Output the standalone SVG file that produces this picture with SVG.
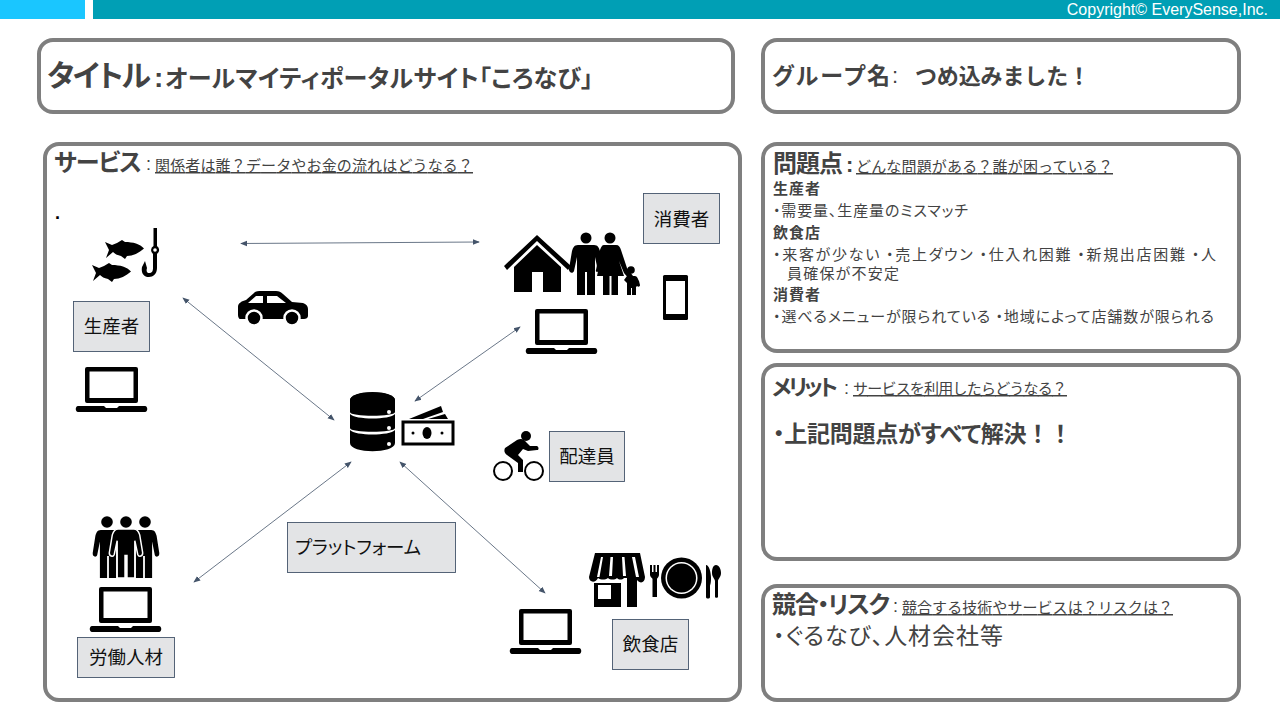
<svg xmlns="http://www.w3.org/2000/svg" width="1280" height="720" viewBox="0 0 1280 720">
<style>
text{font-family:"Liberation Sans","Noto Sans CJK JP",sans-serif;fill:#434343;font-feature-settings:"palt"}
.j{font-family:"Noto Sans CJK JP",sans-serif}
.b{font-weight:700}
.h{font-size:24px;font-weight:700}
.u{font-size:15px;text-decoration:underline;font-feature-settings:normal}
.s{font-size:15px}
.w{font-feature-settings:normal}
.panel{fill:#fff;stroke:#7f7f7f;stroke-width:4}
.box{fill:#e3e4e6;stroke:#44546a;stroke-width:.9}
.lbl{font-size:18.500px;fill:#111;font-family:"Noto Sans CJK JP",sans-serif;text-anchor:middle}
.c{stroke:#44546a;stroke-width:.8;fill:none;marker-start:url(#a);marker-end:url(#a)}
</style>
<defs>
<marker id="a" viewBox="0 0 8 8" refX="7" refY="4" markerWidth="7" markerHeight="7" orient="auto-start-reverse" markerUnits="userSpaceOnUse"><path d="M0 0.8L8 4L0 7.2Z" fill="#44546a"/></marker>
<symbol id="laptop" width="73" height="46" viewBox="0 0 73 46" overflow="visible"><path fill-rule="evenodd" d="M12 0H61a2 2 0 0 1 2 2V34a2 2 0 0 1-2 2H12a2 2 0 0 1-2-2V2a2 2 0 0 1 2-2ZM14.500 4.500V31H58.500V4.500Z"/><path d="M3 39H29L31 41H42L44 39H70C73 39 73 45 70 45H3C0 45 0 39 3 39Z"/></symbol>
<path id="man" d="M-8 0H8C12 0 13 3 14 6L17 24C17.500 28 13 29 12 26L9 12V23V50H1V27H-1V50H-9V23V12L-12 26C-13 29-17.500 28-17 24L-14 6C-13 3-12 0-8 0Z"/>
<path id="fish" d="M0 1L7 4L12 2L17-1L20 1C28 1 35 3 39 7.500C34 12 28 15 22 15L20 18L16 15C12 14 10 13 8 11L1 17L4 9Z"/>
</defs>
<rect width="1280" height="720" fill="#fff"/>
<g id="header">
<rect x="0" y="0" width="85" height="19" fill="#1ac6ff"/>
<rect x="93" y="0" width="1187" height="19" fill="#009fb5"/>
<text x="1268" y="15" font-size="16" text-anchor="end" style="fill:#fff">Copyright© EverySense,Inc.</text>
</g>
<g id="title-panel">
<rect class="panel" x="39" y="40" width="694" height="72" rx="14"/>
<text class="b j" x="47" y="86" font-size="30" textLength="104">タイトル</text>
<text class="b" x="154" y="87" font-size="28">:</text>
<text class="b j" x="165" y="87" font-size="24" textLength="428">オールマイティポータルサイト「ころなび」</text>
</g>
<g id="group-panel">
<rect class="panel" x="763" y="40" width="476" height="72" rx="14"/>
<text class="b j" x="772" y="84" font-size="23" textLength="118">グループ名</text>
<text x="892" y="83" font-size="22">:</text>
<text class="b j w" x="915" y="84" font-size="22" textLength="175">つめ込みました！</text>
</g>
<g id="service-panel">
<rect class="panel" x="45" y="144" width="695" height="556" rx="14"/>
<text class="h j" x="54" y="171" textLength="88">サービス</text>
<text x="146" y="170" font-size="18">:</text>
<text class="u j" x="155" y="171" textLength="318">関係者は誰？データやお金の流れはどうなる？</text>
<text class="b" x="55" y="219" font-size="18" style="fill:#000">.</text>
</g>
<g id="connectors">
<line class="c" x1="241" y1="243.500" x2="479" y2="242"/>
<line class="c" x1="183" y1="298" x2="334" y2="420"/>
<line class="c" x1="520" y1="327" x2="415" y2="401"/>
<line class="c" x1="351" y1="462" x2="194" y2="582"/>
<line class="c" x1="400" y1="462" x2="545" y2="593"/>
</g>
<g id="producer">
<use href="#fish" transform="translate(105 241)"/>
<use href="#fish" transform="translate(92 264)"/>
<path d="M153.500 228H157V246A4.800 4.800 0 0 1 157 254V268C157 274 153 277 149 277C143 277 141 272 142 267L145 261L147 268C146 271 147 273 149 273C152 273 153 271 153 268V254A4.800 4.800 0 0 1 153.500 246Z"/>
<circle cx="155" cy="250" r="1.800" fill="#fff"/>
<rect class="box" x="73.500" y="301.500" width="76" height="50"/>
<text class="lbl" x="111.500" y="333">生産者</text>
<use href="#laptop" x="75" y="367"/>
</g>
<g id="car">
<path fill-rule="evenodd" d="M238 315V307C238 303 242 301 246 300L254 293C256 291 258 291 262 291H276C279 291 281 292 283 294L292 302L303 303C306 304 308 306 308 309V316C308 318 306 319 304 319H240C239 319 238 317 238 315ZM248 303H263V296H256ZM267 296V303H286L277 296Z"/>
<circle cx="254" cy="318" r="7.500" stroke="#fff" stroke-width="2.500"/>
<circle cx="292" cy="318" r="7.500" stroke="#fff" stroke-width="2.500"/>
</g>
<g id="consumer">
<path d="M504 266L537 235L571 266L568 270L537 241L507 270Z"/>
<path fill-rule="evenodd" d="M537 245L561 267V292H514V267ZM532 272V292H543V272Z"/>
<circle cx="586" cy="238" r="5.500"/><circle cx="610" cy="238" r="5.500"/><circle cx="631" cy="270" r="3.800"/>
<use href="#man" transform="translate(586 245)"/>
<path d="M604 245H616C619 245 620 247 621 250L627 268L639 284L636 287L624 273L619 261L624 276H618V295H611.500V276H609.500V295H603V276H597L600 262L599 270C598 273 595 272 596 270L600 250C601 247 602 245 604 245Z"/>
<path d="M627 276H635C637 276 638 279 639 281L640 285C640 287 638 287 637 286L636 283V295H632V288H631V295H627V283L624 280Z"/>
<rect class="box" x="643.500" y="193.500" width="76" height="50"/>
<text class="lbl" x="681.500" y="226">消費者</text>
<rect x="663" y="275" width="25" height="45" rx="1.500"/><rect x="666" y="281" width="19" height="33" fill="#fff"/>
<use href="#laptop" x="525" y="309"/>
</g>
<g id="platform">
<path d="M350 400C350 390 395 390 395 400V412C395 417 350 417 350 412Z"/>
<path d="M350 414C355 420 390 420 395 414V428C395 433 350 433 350 428Z"/>
<path d="M350 430C355 436 390 436 395 430V443C395 454 350 454 350 443Z"/>
<ellipse cx="372.500" cy="400" rx="22.500" ry="8"/>
<circle cx="389" cy="412" r="2" fill="#fff"/><circle cx="389" cy="428" r="2" fill="#fff"/><circle cx="389" cy="444" r="2" fill="#fff"/>
<rect x="403" y="422" width="50" height="22" fill="#fff" stroke="#000" stroke-width="3"/>
<ellipse cx="427" cy="433" rx="4.500" ry="6"/><circle cx="413" cy="433" r="1.500"/><circle cx="442" cy="433" r="1.500"/>
<path d="M409 419L441 406L443 412L423 419ZM428 419L445 414L448 419Z"/>
<rect class="box" x="287.500" y="522.500" width="168" height="50"/>
<text class="lbl" x="295" y="554" style="text-anchor:start" textLength="126">プラットフォーム</text>
</g>
<g id="courier">
<circle cx="526" cy="436" r="5"/>
<circle cx="503" cy="471" r="9" fill="none" stroke="#000" stroke-width="2"/><circle cx="534" cy="471" r="9" fill="none" stroke="#000" stroke-width="2"/>
<path d="M505 448L517 440C521 438 524 439 526 442L530 446L537 446C539 447 539 450 537 450L528 451L523 449L518 455L523 460V472H518V463L507 455C504 453 504 450 505 448Z"/>
<rect class="box" x="549.500" y="431.500" width="75" height="50"/>
<text class="lbl" x="587" y="463">配達員</text>
</g>
<g id="workers">
<circle cx="107" cy="522" r="5.800"/><circle cx="126" cy="522" r="5.800"/><circle cx="145" cy="522" r="5.800"/>
<use href="#man" transform="translate(108 530) scale(.9 .96)"/>
<use href="#man" transform="translate(144 530) scale(.9 .96)"/>
<use href="#man" stroke="#fff" stroke-width="1.500" transform="translate(126 529) scale(.98)"/>
<use href="#laptop" x="89" y="587"/>
<rect class="box" x="77.500" y="637.500" width="97" height="40"/>
<text class="lbl" x="126" y="664">労働人材</text>
</g>
<g id="restaurant">
<path fill-rule="evenodd" d="M595 553H640L645 577C645 583 640 584 637 580V607H627V578H624C622 580 619 580 617 578C615 580 610 580 608 578C605 580 601 580 598 578C596 583 589 583 589 577ZM601 557L597 577H599.500L603 557ZM610.500 557L609 576H612L613 557ZM622 557L623 576H626L624.500 557ZM632 557L636 577H639L635 557ZM594 583V607H621V583Z"/>
<rect x="598" y="585" width="13" height="14" fill="#fff"/>
<circle cx="681.500" cy="578" r="20.500"/><circle cx="681.500" cy="578" r="16" fill="#fff"/><circle cx="681.500" cy="578" r="14.500"/>
<path d="M650 565H652V572H653.500V565H655.500V572H657V565H659V575C659 577 657 578 657 579V597H652.500V579C652.500 578 650 577 650 575Z"/>
<path d="M706 565C709 565 711 572 711 578C711 584 710 585 710 586V597C710 599 706 599 706 597Z"/>
<path d="M716 565C719 565 721 569 721 573C721 577 718 579 718 581V597C718 598 715 598 715 597V581C715 579 712 577 712 573C712 569 713 565 716 565Z"/>
<rect class="box" x="612.500" y="619.500" width="76" height="50"/>
<text class="lbl" x="650.500" y="651">飲食店</text>
<use href="#laptop" x="509" y="609"/>
</g>
<g id="problem-panel">
<rect class="panel" x="763" y="144" width="476" height="207" rx="14"/>
<text class="h j" x="773" y="172" textLength="70">問題点</text>
<text class="b" x="846" y="172" font-size="22">:</text>
<text class="u j" x="856" y="172" textLength="257">どんな問題がある？誰が困っている？</text>
<text class="b s j" x="773" y="194" textLength="47">生産者</text>
<text class="s j" x="773" y="216" textLength="195">・需要量、生産量のミスマッチ</text>
<text class="b s j" x="773" y="238" textLength="47">飲食店</text>
<text class="s j" x="773" y="260" textLength="443">・来客が少ない  ・売上ダウン  ・仕入れ困難  ・新規出店困難  ・人</text>
<text class="s j" x="787" y="279" textLength="112">員確保が不安定</text>
<text class="b s j" x="773" y="300" textLength="47">消費者</text>
<text class="s j" x="773" y="322" textLength="441">・選べるメニューが限られている  ・地域によって店舗数が限られる</text>
</g>
<g id="merit-panel">
<rect class="panel" x="763" y="365" width="476" height="194" rx="14"/>
<text class="b j" x="772" y="395" font-size="22" textLength="66">メリット</text>
<text x="844" y="394" font-size="18">:</text>
<text class="u j" x="853" y="394" textLength="214">サービスを利用したらどうなる？</text>
<text class="b j" x="773" y="442" font-size="23" textLength="299">・上記問題点がすべて解決<tspan class="w">！！</tspan></text>
</g>
<g id="risk-panel">
<rect class="panel" x="763" y="586" width="476" height="114" rx="14"/>
<text class="h j" x="772" y="613" textLength="118">競合・リスク</text>
<text x="893" y="612" font-size="18">:</text>
<text class="u j" x="902" y="613" textLength="271">競合する技術やサービスは？リスクは？</text>
<text class="j" x="773" y="644" font-size="23" textLength="230">・ぐるなび、人材会社等</text>
</g>
</svg>
